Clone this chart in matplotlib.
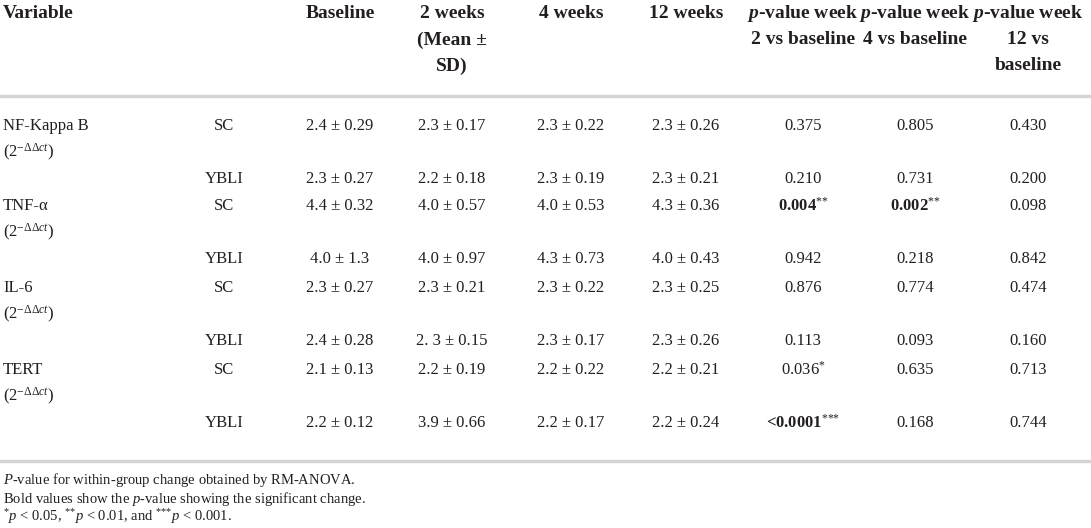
import numpy as np
import matplotlib
matplotlib.use("Agg")
import matplotlib.pyplot as plt

plt.rcParams['font.family'] = ['Liberation Serif', 'DejaVu Serif']
plt.rcParams['mathtext.fontset'] = 'custom'
plt.rcParams['mathtext.rm'] = 'Liberation Serif'
plt.rcParams['mathtext.it'] = 'Liberation Serif:italic'
plt.rcParams['mathtext.bf'] = 'Liberation Serif:bold'
plt.rcParams['mathtext.bfit'] = 'Liberation Serif:italic:bold'

# table data
variables = ["NF-Kappa B", "TNF-\u03b1", "IL-6", "TERT"]
unit = r"$(2^{-\Delta\Delta \mathit{ct}})$"
groups = ["SC", "YBLI"]

baseline = ["2.4 \u00b1 0.29", "2.3 \u00b1 0.27", "4.4 \u00b1 0.32", "4.0 \u00b1 1.3",
            "2.3 \u00b1 0.27", "2.4 \u00b1 0.28", "2.1 \u00b1 0.13", "2.2 \u00b1 0.12"]
week2 = ["2.3 \u00b1 0.17", "2.2 \u00b1 0.18", "4.0 \u00b1 0.57", "4.0 \u00b1 0.97",
         "2.3 \u00b1 0.21", "2. 3 \u00b1 0.15", "2.2 \u00b1 0.19", "3.9 \u00b1 0.66"]
week4 = ["2.3 \u00b1 0.22", "2.3 \u00b1 0.19", "4.0 \u00b1 0.53", "4.3 \u00b1 0.73",
         "2.3 \u00b1 0.22", "2.3 \u00b1 0.17", "2.2 \u00b1 0.22", "2.2 \u00b1 0.17"]
week12 = ["2.3 \u00b1 0.26", "2.3 \u00b1 0.21", "4.3 \u00b1 0.36", "4.0 \u00b1 0.43",
          "2.3 \u00b1 0.25", "2.3 \u00b1 0.26", "2.2 \u00b1 0.21", "2.2 \u00b1 0.24"]
p_w2 = ["0.375", "0.210", "0.004", "0.942", "0.876", "0.113", "0.036", "<0.0001"]
p_w4 = ["0.805", "0.731", "0.002", "0.218", "0.774", "0.093", "0.635", "0.168"]
p_w12 = ["0.430", "0.200", "0.098", "0.842", "0.474", "0.160", "0.713", "0.744"]
stars_w2 = [0, 0, 2, 0, 0, 0, 1, 3]
stars_w4 = [0, 0, 2, 0, 0, 0, 0, 0]
bold_w2 = [False, False, True, False, False, False, False, True]
bold_w4 = [False, False, True, False, False, False, False, False]

headers = [
    ["Baseline"],
    ["2 weeks", "(Mean \u00b1", "SD)"],
    ["4 weeks"],
    ["12 weeks"],
    [r"$\mathbfit{p}$-value week", "2 vs baseline"],
    [r"$\mathbfit{p}$-value week", "4 vs baseline"],
    [r"$\mathbfit{p}$-value week", "12 vs", "baseline"],
]


def sup_stars(n):
    # braces keep mathtext from spacing the asterisks like operators
    return r"${}^{" + "{*}" * n + "}$" if n else ""


footnotes = [
    r"$\mathit{P}$-value for within-group change obtained by RM-ANOVA.",
    r"Bold values show the $\mathit{p}$-value showing the significant change.",
    sup_stars(1) + r"$\mathit{p}$ < 0.05, " + sup_stars(2) + r"$\mathit{p}$ < 0.01, and "
    + sup_stars(3) + r"$\mathit{p}$ < 0.001.",
]

W, H = 1091, 528
fig = plt.figure(figsize=(W / 100, H / 100), dpi=100)
ax = fig.add_axes([0, 0, 1, 1])
ax.set_xlim(0, W)
ax.set_ylim(H, 0)
ax.axis('off')

txt = '#231f20'
rule = '#d4d4d4'
hsize, bsize, fsize = 14, 12, 10.5

col_x = [224, 340, 452, 571, 686, 803, 915, 1028]
head_y = [14, 40, 66]

ax.text(3, head_y[0], "Variable", fontsize=hsize, fontweight='bold', color=txt,
        ha='left', va='center')
for x, lines in zip(col_x[1:], headers):
    for y, s in zip(head_y, lines):
        ax.text(x, y, s, fontsize=hsize, fontweight='bold', color=txt,
                ha='center', va='center')

ax.axhline(96, color=rule, lw=2.4)

sc_y = [126, 206, 288, 370]
row_y = []
for y in sc_y:
    row_y += [y, y + 53]

for i, name in enumerate(variables):
    ax.text(3, sc_y[i], name, fontsize=bsize, color=txt, ha='left', va='center')
    ax.text(3, sc_y[i] + 26, unit, fontsize=bsize, color=txt, ha='left', va='center')

for r, y in enumerate(row_y):
    ax.text(col_x[0], y, groups[r % 2], fontsize=bsize, color=txt, ha='center', va='center')
    for c, col in enumerate([baseline, week2, week4, week12]):
        ax.text(col_x[c + 1], y, col[r], fontsize=bsize, color=txt, ha='center', va='center')
    for c, (vals, stars, bolds) in enumerate([(p_w2, stars_w2, bold_w2),
                                              (p_w4, stars_w4, bold_w4),
                                              (p_w12, [0] * 8, [False] * 8)]):
        s = vals[r] + sup_stars(stars[r])
        ax.text(col_x[c + 5], y, s, fontsize=bsize, color=txt, ha='center', va='center',
                fontweight='bold' if bolds[r] else 'normal')

ax.axhline(461, color=rule, lw=2.4)

for y, s in zip([480, 499, 517], footnotes):
    ax.text(3, y, s, fontsize=fsize, color=txt, ha='left', va='center')

fig.savefig("out.png", dpi=100)
